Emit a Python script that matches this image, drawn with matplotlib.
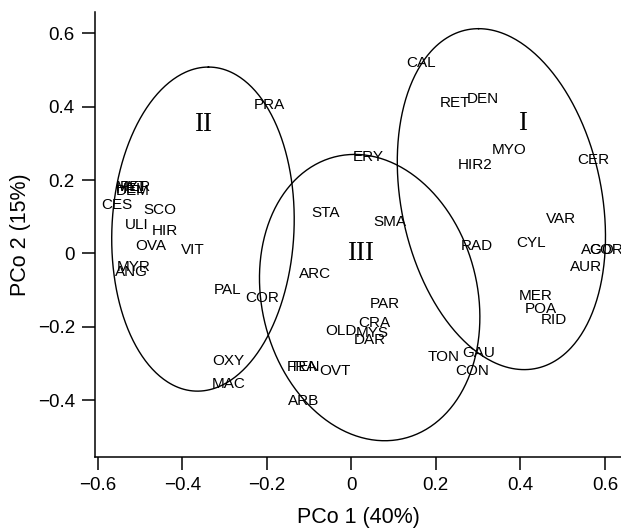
import numpy as np
import matplotlib
matplotlib.use("Agg")
import matplotlib.pyplot as plt

# species codes and their PCo scores
species = ['CAL', 'RET', 'DEN', 'MYO', 'HIR2', 'CER', 'VAR', 'CYL', 'RAD', 'AUR',
           'AGO', 'COR', 'MER', 'POA', 'RID', 'GAU', 'CON', 'TON', 'PAR', 'CRA',
           'OLD', 'MYS', 'DAR', 'OVT', 'FRA', 'TEN', 'ARB', 'ARC', 'STA', 'SMA',
           'ERY', 'PRA', 'COR', 'PAL', 'OXY', 'MAC', 'VIT', 'OVA', 'HIR', 'ULI',
           'SCO', 'CES', 'MYT', 'PER', 'DEM', 'HEL', 'ANG', 'MYR']
pco1 = [0.165, 0.245, 0.311, 0.373, 0.293, 0.573, 0.496, 0.425, 0.298, 0.555,
        0.584, 0.603, 0.436, 0.448, 0.479, 0.301, 0.286, 0.218, 0.079, 0.055,
        -0.024, 0.050, 0.044, -0.038, -0.118, -0.110, -0.114, -0.087, -0.062, 0.090,
        0.041, -0.194, -0.210, -0.292, -0.291, -0.289, -0.376, -0.474, -0.442, -0.508,
        -0.454, -0.555, -0.520, -0.511, -0.518, -0.522, -0.521, -0.516]
pco2 = [0.520, 0.410, 0.421, 0.282, 0.240, 0.255, 0.094, 0.028, 0.019, -0.037,
        0.009, 0.009, -0.115, -0.152, -0.183, -0.273, -0.321, -0.283, -0.138, -0.190,
        -0.212, -0.216, -0.236, -0.321, -0.309, -0.309, -0.403, -0.056, 0.111, 0.085,
        0.263, 0.406, -0.121, -0.100, -0.294, -0.356, 0.009, 0.021, 0.061, 0.077,
        0.118, 0.132, 0.181, 0.181, 0.170, 0.175, -0.051, -0.037]

# group ellipses: centre, offset of top point, horizontal half-width at centre
groups = ['I', 'II', 'III']
group_x = [0.405, -0.350, 0.021]
group_y = [0.353, 0.352, 0.000]
ell_cx = [0.355, -0.351, 0.0434]
ell_cy = [0.148, 0.0663, -0.1205]
ell_ux = [-0.054, 0.013, -0.0355]
ell_uy = [0.465, 0.442, 0.3905]
ell_h = [0.2403, 0.2155, 0.2583]

fig = plt.figure(figsize=(6.21, 5.29), dpi=100)
ax = fig.add_axes([0.153, 0.136, 0.847, 0.841])

t = np.linspace(0, 2 * np.pi, 400)
for cx, cy, ux, uy, h in zip(ell_cx, ell_cy, ell_ux, ell_uy, ell_h):
    ax.plot(cx + ux * np.cos(t) + h * np.sin(t), cy + uy * np.cos(t),
            color='black', lw=1.0)

for name, x, y in zip(species, pco1, pco2):
    ax.text(x, y, name, ha='center', va='center', fontsize=11,
            family='Liberation Sans')

for name, x, y in zip(groups, group_x, group_y):
    ax.text(x, y, name, ha='center', va='center', fontsize=19.5,
            family='Liberation Serif')

ax.set_xlim(-0.6064, 0.638)
ax.set_ylim(-0.5555, 0.658)
ax.set_xticks([-0.6, -0.4, -0.2, 0, 0.2, 0.4, 0.6])
ax.set_xticklabels(['\u22120.6', '\u22120.4', '\u22120.2', '0', '0.2', '0.4', '0.6'])
ax.set_yticks([-0.4, -0.2, 0, 0.2, 0.4, 0.6])
ax.set_yticklabels(['\u22120.4', '\u22120.2', '0', '0.2', '0.4', '0.6'])
ax.spines['top'].set_visible(False)
ax.spines['right'].set_visible(False)
for s in ['left', 'bottom']:
    ax.spines[s].set_linewidth(1.1)
ax.tick_params(length=9.5, width=1.1, pad=5, labelsize=13.5)
for lab in ax.get_xticklabels() + ax.get_yticklabels():
    lab.set_family('Liberation Sans')

ax.set_xlabel('PCo 1 (40%)', fontsize=15.5, family='Liberation Sans', labelpad=9)
ax.set_ylabel('PCo 2 (15%)', fontsize=15.5, family='Liberation Sans', labelpad=5)

fig.savefig('out.png', dpi=100)
